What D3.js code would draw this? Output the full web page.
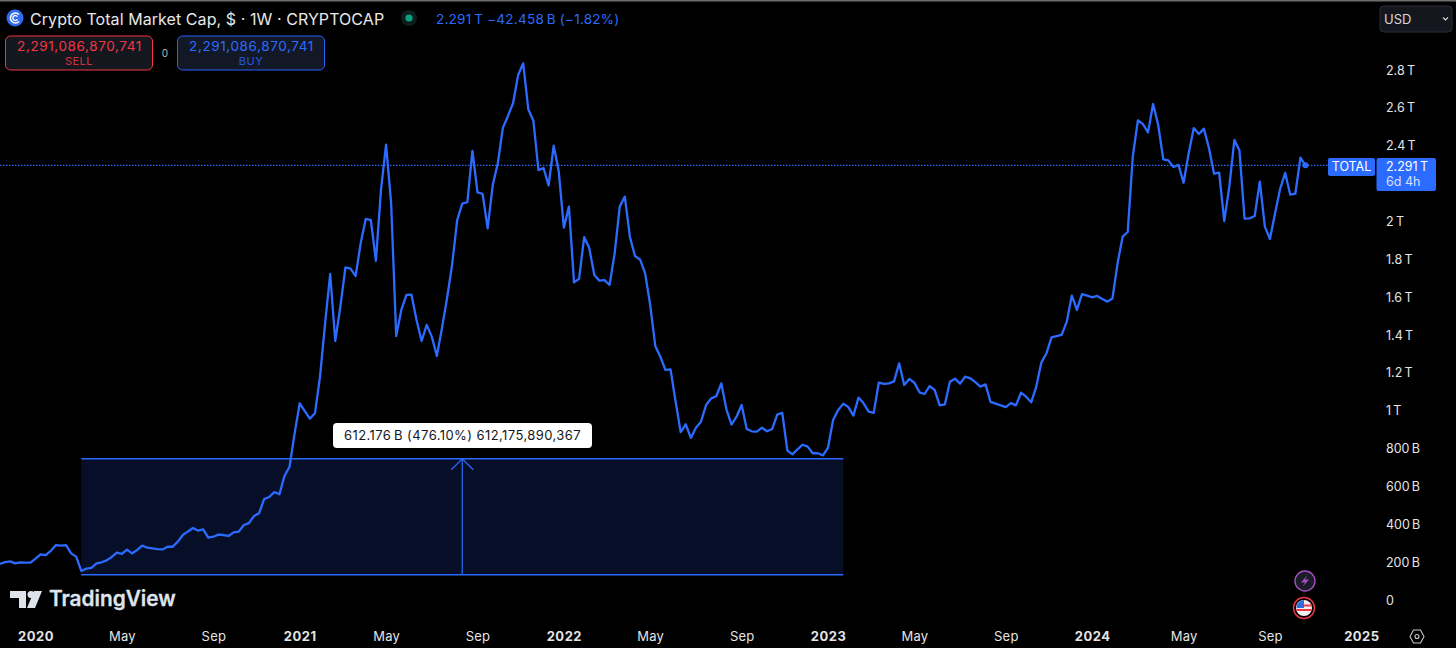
<!DOCTYPE html>
<html>
<head>
<meta charset="utf-8">
<script src="https://d3js.org/d3.v7.min.js"></script>
<style>
  html, body { margin: 0; padding: 0; background: #000; overflow: hidden; }
  text { font-family: Inter, Roboto, sans-serif; }
</style>
</head>
<body>
<div class="canva"></div>
<script>
// weekly close of TOTAL, in billions of USD
const firstWeek = '2019-11-18'
const totalValues = [
  185, 195, 199, 188, 194, 192, 192, 213, 236, 232, 254, 285, 282, 285, 241, 224, 148, 160, 164, 188,
  194, 204, 222, 245, 238, 261, 241, 259, 282, 271, 268, 264, 262, 276, 276, 303, 338, 357, 375, 361,
  368, 324, 329, 340, 338, 333, 352, 356, 391, 401, 438, 453, 528, 539, 565, 553, 650, 699, 875, 1034,
  993, 953, 981, 1175, 1456, 1717, 1363, 1544, 1752, 1745, 1706, 1879, 2008, 2002, 1787, 2161, 2400, 2090, 1389, 1527,
  1606, 1608, 1474, 1363, 1448, 1386, 1284, 1430, 1588, 1765, 2002, 2089, 2096, 2367, 2148, 2141, 1958, 2187, 2302, 2490,
  2552, 2619, 2768, 2830, 2587, 2527, 2266, 2277, 2185, 2395, 2258, 1962, 2073, 1673, 1692, 1912, 1854, 1712, 1682, 1685,
  1659, 1826, 2073, 2126, 1914, 1812, 1794, 1720, 1553, 1337, 1280, 1210, 1213, 1042, 882, 923, 851, 905, 937, 1025,
  1060, 1071, 1139, 1002, 921, 963, 1025, 898, 886, 884, 905, 886, 898, 974, 983, 784, 764, 791, 815, 805,
  770, 770, 759, 799, 946, 998, 1032, 1014, 969, 1064, 1034, 990, 983, 1143, 1136, 1139, 1150, 1245, 1131, 1162,
  1143, 1092, 1083, 1125, 1104, 1023, 1028, 1148, 1164, 1138, 1175, 1166, 1146, 1122, 1134, 1041, 1032, 1023, 1014, 1035,
  1023, 1090, 1069, 1039, 1122, 1249, 1298, 1382, 1389, 1395, 1465, 1603, 1527, 1611, 1603, 1594, 1601, 1585, 1571, 1588,
  1773, 1914, 1939, 2337, 2529, 2509, 2465, 2615, 2504, 2323, 2317, 2282, 2293, 2199, 2354, 2488, 2457, 2485, 2381, 2247,
  2252, 1997, 2178, 2425, 2369, 2009, 2011, 2023, 2205, 1967, 1902, 2037, 2166, 2251, 2136, 2141, 2332, 2291
]

const priceTicks = [0, 200, 400, 600, 800, 1000, 1200, 1400, 1600, 1800, 2000, 2400, 2600, 2800]
const priceLabels = ['0', '200\u2009B', '400\u2009B', '600\u2009B', '800\u2009B', '1\u2009T', '1.2\u2009T', '1.4\u2009T', '1.6\u2009T', '1.8\u2009T', '2\u2009T', '2.4\u2009T', '2.6\u2009T', '2.8\u2009T']

const timeTicks = ['2020-01-06', '2020-05-04', '2020-09-07', '2021-01-04', '2021-05-03', '2021-09-06', '2022-01-03', '2022-05-02', '2022-09-05', '2023-01-02', '2023-05-01', '2023-09-04', '2024-01-01', '2024-05-06', '2024-09-02', '2025-01-06']
const timeLabels = ['2020', 'May', 'Sep', '2021', 'May', 'Sep', '2022', 'May', 'Sep', '2023', 'May', 'Sep', '2024', 'May', 'Sep', '2025']

// the price range measure drawn on the chart
const measureFrom = '2020-03-09'
const measureTo = '2023-01-23'
const measureLow = 128.6
const measureChange = 612.176
const lastPrice = 2291

const blue = '#2c6bff'
const width = 1456
const height = 648

const svg = d3.select('.canva').append('svg')
              .attr('width', width)
              .attr('height', height)
              .style('display', 'block')

svg.append('rect').attr('width', width).attr('height', height).attr('fill', '#000')
svg.append('rect').attr('width', width).attr('height', 1.5).attr('fill', '#6e6e6e')

const parse = d3.utcParse('%Y-%m-%d')
const start = parse(firstWeek)
const weeks = totalValues.map((v, i) => d3.utcDay.offset(start, i * 7))

const x = d3.scaleUtc()
            .domain([start, weeks[weeks.length - 1]])
            .range([0, 1305.5])

const y = d3.scaleLinear()
            .domain([0, 2800])
            .range([599, 69])

// measure box
const boxX0 = x(parse(measureFrom))
const boxX1 = x(parse(measureTo))
const boxY0 = y(measureLow + measureChange)
const boxY1 = y(measureLow)
const boxMid = (boxX0 + boxX1) / 2

svg.append('rect')
   .attr('x', boxX0).attr('y', boxY0)
   .attr('width', boxX1 - boxX0).attr('height', boxY1 - boxY0)
   .attr('fill', '#060f27')

svg.selectAll('.measure-edge')
   .data([boxY0, boxY1])
   .enter()
   .append('line')
   .attr('x1', boxX0).attr('x2', boxX1)
   .attr('y1', d => d).attr('y2', d => d)
   .attr('stroke', blue).attr('stroke-width', 1.5)

svg.append('line')
   .attr('x1', boxMid).attr('x2', boxMid)
   .attr('y1', boxY1).attr('y2', boxY0)
   .attr('stroke', blue).attr('stroke-width', 1.2)

svg.append('path')
   .attr('d', `M${boxMid - 11},${boxY0 + 11}L${boxMid},${boxY0}L${boxMid + 11},${boxY0 + 11}`)
   .attr('fill', 'none').attr('stroke', blue).attr('stroke-width', 1.2)

// last price line
svg.append('line')
   .attr('x1', 0).attr('x2', 1328)
   .attr('y1', y(lastPrice)).attr('y2', y(lastPrice))
   .attr('stroke', blue).attr('stroke-width', 1.2)
   .attr('stroke-dasharray', '1.5 1.5')

// main line
const line = d3.line()
               .x((d, i) => x(weeks[i]))
               .y(d => y(d))

svg.append('path')
   .datum(totalValues)
   .attr('d', line)
   .attr('fill', 'none')
   .attr('stroke', blue)
   .attr('stroke-width', 2.3)
   .attr('stroke-linejoin', 'round')

svg.append('circle')
   .attr('cx', x(weeks[weeks.length - 1])).attr('cy', y(lastPrice))
   .attr('r', 3).attr('fill', blue)

// tooltip of the measure
svg.append('rect')
   .attr('x', 333).attr('y', 423).attr('width', 259).attr('height', 25)
   .attr('rx', 4).attr('fill', '#fff')

svg.append('text')
   .attr('x', 462.5).attr('y', 440)
   .attr('text-anchor', 'middle')
   .attr('font-size', 13)
   .attr('letter-spacing', 0.42)
   .attr('fill', '#131722')
   .text('612.176\u2009B (476.10%) 612,175,890,367')

// price axis
const yAxis = svg.append('g')
   .attr('transform', 'translate(1386,1)')
   .call(d3.axisRight(y)
           .tickValues(priceTicks)
           .tickSize(0)
           .tickPadding(0)
           .tickFormat((d, i) => priceLabels[i]))

yAxis.select('.domain').remove()
yAxis.selectAll('text')
     .attr('fill', '#e4e4e4')
     .attr('font-size', 12.5)
     .style('font-family', 'Inter, Roboto, sans-serif')

// time axis
const xAxis = svg.append('g')
   .attr('transform', 'translate(0,631.5)')
   .call(d3.axisBottom(x)
           .tickValues(timeTicks.map(parse))
           .tickSize(0)
           .tickPadding(0)
           .tickFormat((d, i) => timeLabels[i]))

xAxis.select('.domain').remove()
xAxis.selectAll('text')
     .attr('fill', '#e4e4e4')
     .attr('font-size', 13)
     .attr('letter-spacing', (d, i) => timeLabels[i].length === 4 ? 0.5 : 0.2)
     .attr('font-weight', (d, i) => timeLabels[i].length === 4 ? 700 : 400)
     .style('font-family', 'Inter, Roboto, sans-serif')

// header
const logo = svg.append('g').attr('transform', 'translate(15,18)')
logo.append('circle').attr('r', 8.5).attr('fill', '#2f6bf0')
logo.append('path')
    .attr('d', 'M4,-3.5A5,5 0 1 0 4,3.5')
    .attr('fill', 'none').attr('stroke', '#fff').attr('stroke-width', 1.6)
logo.append('path')
    .attr('d', 'M2.5,-1.3A2.5,2.5 0 1 0 2.5,1.3')
    .attr('fill', 'none').attr('stroke', '#fff').attr('stroke-width', 1.3)

svg.append('text')
   .attr('x', 30).attr('y', 24.5)
   .attr('font-size', 16)
   .attr('letter-spacing', 0.07)
   .attr('fill', '#e8e8e8')
   .text('Crypto Total Market Cap, $ · 1W · CRYPTOCAP')

svg.append('circle').attr('cx', 409).attr('cy', 18).attr('r', 8).attr('fill', '#0d1f1c')
svg.append('circle').attr('cx', 409).attr('cy', 18).attr('r', 3.6).attr('fill', '#0e9f80')

svg.append('text')
   .attr('x', 436).attr('y', 23.5)
   .attr('font-size', 13.5)
   .attr('letter-spacing', 0.25)
   .attr('fill', blue)
   .text('2.291\u2009T  \u221242.458\u2009B (\u22121.82%)')

// sell and buy buttons
const buttons = [
  { x: 5.5, label: 'SELL', color: '#f23645', fill: '#15171f', value: '#f23645' },
  { x: 177.5, label: 'BUY', color: '#2962ff', fill: '#131826', value: blue }
]

buttons.forEach(b => {
  svg.append('rect')
     .attr('x', b.x).attr('y', 36).attr('width', 147).attr('height', 34)
     .attr('rx', 5).attr('fill', b.fill).attr('stroke', b.color).attr('stroke-width', 1)
  svg.append('text')
     .attr('x', b.x + 74).attr('y', 51)
     .attr('text-anchor', 'middle').attr('font-size', 13.5)
     .attr('letter-spacing', 0.6)
     .attr('fill', b.value)
     .text('2,291,086,870,741')
  svg.append('text')
     .attr('x', b.x + 73.5).attr('y', 65)
     .attr('text-anchor', 'middle').attr('font-size', 11)
     .attr('letter-spacing', 0.5)
     .attr('fill', b.color).attr('opacity', 0.85)
     .text(b.label)
})

svg.append('text')
   .attr('x', 165).attr('y', 57)
   .attr('text-anchor', 'middle').attr('font-size', 10)
   .attr('fill', '#b8b8b8')
   .text('0')

// currency box
svg.append('rect')
   .attr('x', 1380).attr('y', 6).attr('width', 72).attr('height', 26)
   .attr('rx', 4).attr('fill', '#15171f').attr('stroke', '#2c2f38').attr('stroke-width', 1)
svg.append('text')
   .attr('x', 1384).attr('y', 24)
   .attr('font-size', 13).attr('fill', '#d8d8d8')
   .text('USD')
svg.append('path')
   .attr('d', 'M1443,17.5l2.5,2.5l2.5,-2.5')
   .attr('fill', 'none').attr('stroke', '#d8d8d8').attr('stroke-width', 1.2)

// last price labels
svg.append('rect')
   .attr('x', 1328).attr('y', 158).attr('width', 47).attr('height', 18)
   .attr('rx', 2).attr('fill', blue)
svg.append('text')
   .attr('x', 1351.5).attr('y', 171)
   .attr('text-anchor', 'middle').attr('font-size', 12.5).attr('fill', '#fff')
   .text('TOTAL')
svg.append('rect')
   .attr('x', 1376.5).attr('y', 158).attr('width', 59.5).attr('height', 33)
   .attr('rx', 2).attr('fill', blue)
svg.append('text')
   .attr('x', 1386).attr('y', 171)
   .attr('font-size', 12.5).attr('fill', '#fff')
   .text('2.291\u2009T')
svg.append('text')
   .attr('x', 1386).attr('y', 186)
   .attr('font-size', 12.5).attr('fill', '#d5e1ff')
   .text('6d 4h')

// tradingview mark
const mark = svg.append('g').attr('fill', '#dfe3ec')
mark.append('path').attr('d', 'M10,591H26V608H19V598H10Z')
mark.append('circle').attr('cx', 31).attr('cy', 594.5).attr('r', 3.5)
mark.append('path').attr('d', 'M34,591H42L35,608H27Z')
svg.append('text')
   .attr('x', 49).attr('y', 606)
   .attr('font-size', 20.8).attr('font-weight', 600)
   .attr('fill', '#dfe3ec')
   .attr('stroke', '#dfe3ec').attr('stroke-width', 0.3)
   .text('TradingView')

// event icons
svg.append('circle')
   .attr('cx', 1305).attr('cy', 581).attr('r', 10)
   .attr('fill', '#1a1c28').attr('stroke', '#a64fc4').attr('stroke-width', 1.4)
svg.append('path')
   .attr('d', 'M1307.5,575L1301,582.5H1305L1302.5,587L1309,579.5H1305Z')
   .attr('fill', '#a64fc4')

const flag = svg.append('g')
flag.append('circle')
    .attr('cx', 1304).attr('cy', 608).attr('r', 10.5)
    .attr('fill', '#000').attr('stroke', '#f23645').attr('stroke-width', 1.4)
flag.append('circle').attr('cx', 1304).attr('cy', 608).attr('r', 8).attr('fill', '#f0f0f0')
flag.append('path').attr('d', 'M1297,604.5H1311.5V606.5H1297ZM1296.3,609H1311.8V611H1296.3Z').attr('fill', '#f23645')
flag.append('path').attr('d', 'M1304,600A8,8 0 0 0 1296.6,608H1304Z').attr('fill', '#2d6cdf')

// settings icon
svg.append('path')
   .attr('d', 'M1410,636.5L1413.5,630H1420.5L1424,636.5L1420.5,643H1413.5Z')
   .attr('fill', 'none').attr('stroke', '#c8c8c8').attr('stroke-width', 1.1)
svg.append('circle')
   .attr('cx', 1417).attr('cy', 636.5).attr('r', 2)
   .attr('fill', 'none').attr('stroke', '#c8c8c8').attr('stroke-width', 1.1)
</script>
</body>
</html>
